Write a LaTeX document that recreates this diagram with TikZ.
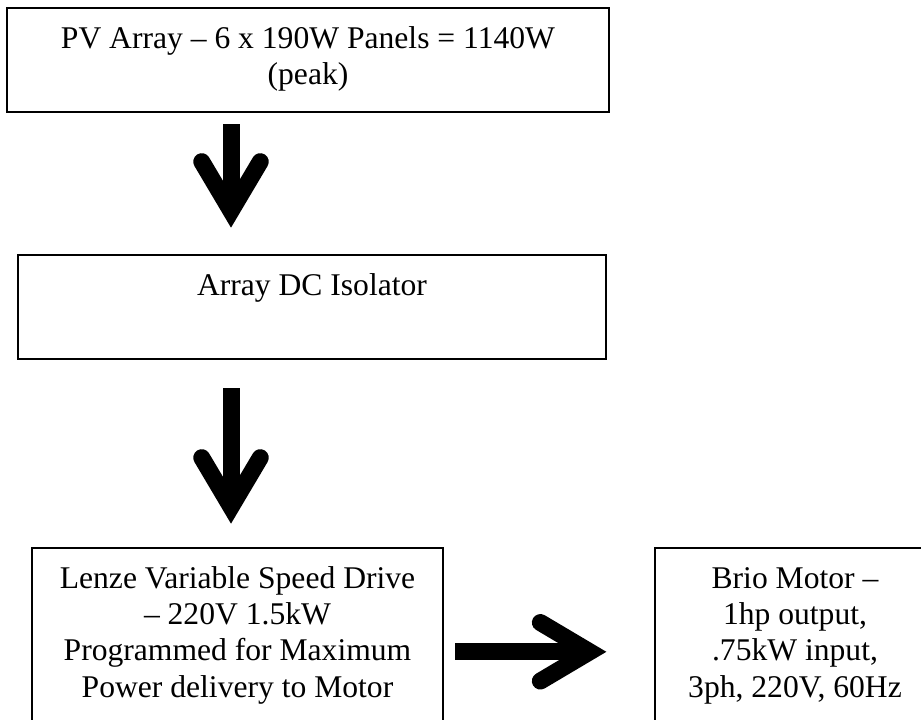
\documentclass[tikz,border=0pt]{standalone}
\usepackage{fontspec}
\setmainfont{Liberation Serif}
\usetikzlibrary{calc}
\tikzset{
  box/.style={draw=black, line width=1.1pt, rectangle, inner sep=0pt, fill=none},
  label/.style={anchor=north, inner sep=0pt, align=center, font=\fontsize{31.6}{36.3}\selectfont},
  fatshaft/.style={line width=17pt, line cap=butt, draw=black},
  fathead/.style={line width=17pt, line cap=round, line join=miter, draw=black},
}
\newcommand\FatArrow[2]{%
  \draw[fatshaft] (#1) -- ($(#2)!17pt!(#1)$);
  \draw[fathead] ($(#2)!72.5pt!23.8:(#1)$) -- ($(#2)!17pt!(#1)$) -- ($(#2)!72.5pt!-23.8:(#1)$);
}
\begin{document}
\begin{tikzpicture}[x=1pt, y=-1pt]
  \useasboundingbox (0,0) rectangle (921,720);
  \clip (0,0) rectangle (921,720);
  % boxes
  \node[box, minimum width=602pt, minimum height=104pt] (b1) at (308,60) {};
  \node[box, minimum width=588pt, minimum height=104pt] (b2) at (312,307) {};
  \node[box, minimum width=411pt, minimum height=212pt] (b3) at (237.5,654) {};
  \node[box, minimum width=280pt, minimum height=212pt] (b4) at (795,654) {};
  % texts
  \node[label] (t1) at (308,23) {\rule{0pt}{25pt}PV Array – 6 x 190W Panels = 1140W\\(peak)};
  \node[label] (t2) at (312,270) {\rule{0pt}{25pt}Array DC Isolator};
  \node[label] (t3) at (237.5,563) {\rule{0pt}{25pt}Lenze Variable Speed Drive\\– 220V 1.5kW\\Programmed for Maximum\\Power delivery to Motor};
  \node[label] (t4) at (795,563) {\rule{0pt}{25pt}Brio Motor –\\1hp output,\\.75kW input,\\3ph, 220V, 60Hz};
  % arrow end points
  \coordinate (a1s) at (231,124);
  \coordinate (a1t) at (231,228);
  \coordinate (a2s) at (231,388);
  \coordinate (a2t) at (231,524);
  \coordinate (a3s) at (455,651.8);
  \coordinate (a3t) at (606.7,651.8);
  \FatArrow{a1s}{a1t}
  \FatArrow{a2s}{a2t}
  \FatArrow{a3s}{a3t}
\end{tikzpicture}
\end{document}
